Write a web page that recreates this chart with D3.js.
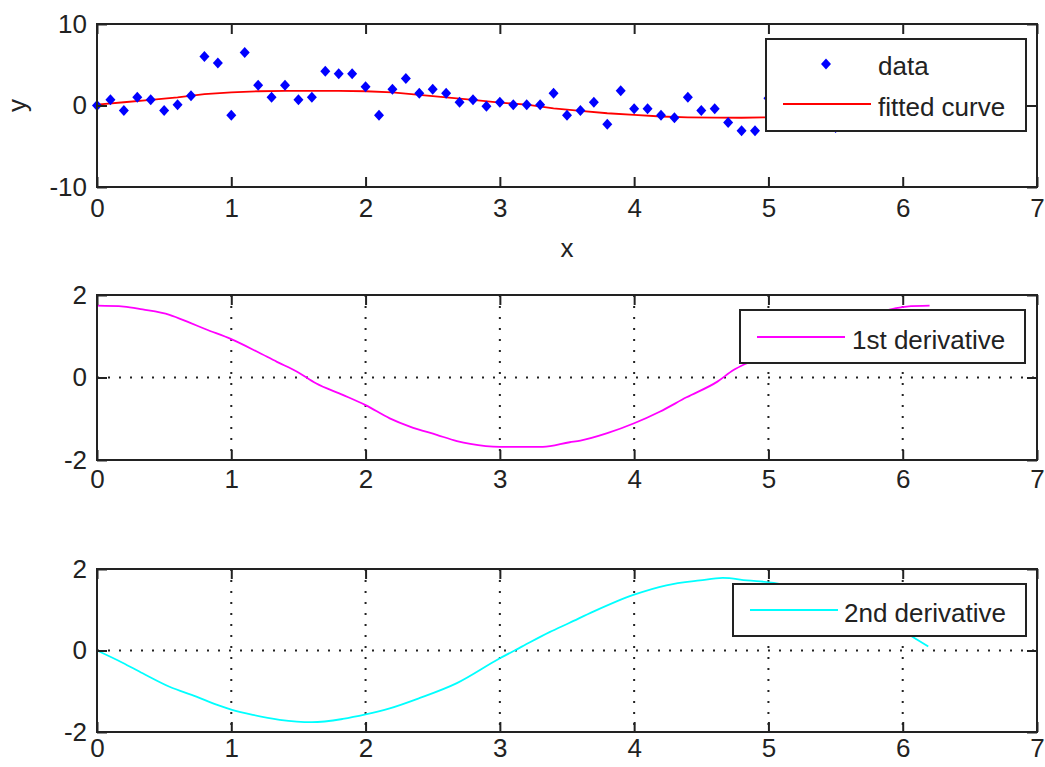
<!DOCTYPE html>
<html>
<head>
<meta charset="utf-8">
<script src="https://cdn.jsdelivr.net/npm/d3@7"></script>
<style>
  html, body { margin: 0; padding: 0; background: #fff; }
  svg { display: block; font-family: "Liberation Sans", Arial, sans-serif; }
  .tick text { font-size: 26px; fill: #222; }
</style>
</head>
<body>
<svg id="chart" width="1045" height="767"></svg>
<script>
// ---------- data ----------
const dataX = d3.range(63).map(i => +(i * 0.1).toFixed(1));
const dataY = [0.0, 0.7, -0.6, 1.0, 0.7, -0.6, 0.1, 1.2, 6.0, 5.2,
               -1.2, 6.5, 2.5, 1.0, 2.5, 0.7, 1.0, 4.2, 3.9, 3.9,
               2.3, -1.2, 2.0, 3.3, 1.5, 2.0, 1.5, 0.4, 0.7, -0.1,
               0.4, 0.1, 0.1, 0.1, 1.5, -1.2, -0.6, 0.4, -2.3, 1.8,
               -0.4, -0.4, -1.2, -1.5, 1.0, -0.6, -0.4, -2.1, -3.1, -3.1,
               0.9, -1.0, -2.0, 0.5, -1.5, -2.7, -1.3, -0.2, -2.0, -0.8,
               0.3, -1.5, -0.5];

const fitX = [0, 0.2, 0.4, 0.6, 0.8, 1.0, 1.2, 1.4, 1.6, 1.8, 2.0, 2.2, 2.4, 2.6, 2.8, 3.0,
              3.2, 3.4, 3.6, 3.8, 4.0, 4.2, 4.4, 4.6, 4.8, 5.0, 5.2, 5.4, 5.6, 5.8, 6.0, 6.2];
const fitY = [0.1, 0.4, 0.7, 1.0, 1.4, 1.6, 1.75, 1.8, 1.8, 1.8, 1.75, 1.6, 1.3, 1.0, 0.7, 0.35,
              0.1, -0.35, -0.65, -0.95, -1.15, -1.35, -1.45, -1.5, -1.5, -1.45, -1.35, -1.15, -0.9, -0.6, -0.35, -0.1];

const d1X = [0, 0.2, 0.34, 0.54, 0.69, 0.81, 1.0, 1.19, 1.34, 1.49, 1.63, 1.83, 2.0, 2.18, 2.33,
             2.53, 2.68, 2.78, 3.0, 3.32, 3.52, 3.6, 3.8, 4.0, 4.19, 4.39, 4.62, 4.74, 4.86,
             5.0, 5.2, 5.4, 5.6, 5.8, 5.95, 6.03, 6.2];
const d1Y = [1.74, 1.72, 1.65, 1.52, 1.33, 1.17, 0.93, 0.63, 0.38, 0.14, -0.14, -0.42, -0.67, -0.99, -1.19,
             -1.39, -1.54, -1.61, -1.68, -1.68, -1.57, -1.53, -1.35, -1.11, -0.83, -0.48, -0.1, 0.18, 0.38,
             0.6, 0.9, 1.15, 1.35, 1.55, 1.68, 1.72, 1.74];

const d2X = [0, 0.19, 0.34, 0.54, 0.74, 0.89, 1.0, 1.16, 1.36, 1.6, 1.83, 2.0, 2.18, 2.4, 2.68,
             3.0, 3.15, 3.37, 3.52, 3.7, 4.0, 4.24, 4.49, 4.66, 4.84, 5.04, 5.3, 5.6, 5.9, 6.09, 6.19];
const d2Y = [0, -0.3, -0.56, -0.89, -1.13, -1.33, -1.45, -1.58, -1.7, -1.76, -1.68, -1.57, -1.42, -1.17, -0.8,
             -0.19, 0.07, 0.45, 0.68, 0.96, 1.37, 1.6, 1.72, 1.78, 1.72, 1.66, 1.45, 1.15, 0.7, 0.3, 0.1];

const xTicks = [0, 1, 2, 3, 4, 5, 6, 7];
const yTicksTop = [-10, 0, 10];
const yTicksDeriv = [-2, 0, 2];

// ---------- layout ----------
const svg = d3.select("#chart");
const left = 97, right = 1037;
const panels = [
  { top: 24, bottom: 187, domain: [-10, 10], yTicks: yTicksTop, grid: false, pad: 12 },
  { top: 295, bottom: 460, domain: [-2, 2], yTicks: yTicksDeriv, grid: true, pad: 10 },
  { top: 569, bottom: 732, domain: [-2, 2], yTicks: yTicksDeriv, grid: true, pad: 7 }
];
const x = d3.scaleLinear().domain([0, 7]).range([left, right]);
const fmt = d => String(d);

function drawFrame(p) {
  const y = d3.scaleLinear().domain(p.domain).range([p.bottom, p.top]);
  p.y = y;
  const g = svg.append("g");
  if (p.grid) {
    g.append("g").selectAll("line").data(xTicks.slice(1, -1)).join("line")
      .attr("x1", d => x(d)).attr("x2", d => x(d))
      .attr("y1", p.top).attr("y2", p.bottom)
      .attr("stroke", "#222").attr("stroke-width", 2)
      .attr("stroke-dasharray", "2,9");
    g.append("g").selectAll("line").data(p.yTicks.slice(1, -1)).join("line")
      .attr("x1", left).attr("x2", right)
      .attr("y1", d => y(d)).attr("y2", d => y(d))
      .attr("stroke", "#222").attr("stroke-width", 2)
      .attr("stroke-dasharray", "2,9");
  }
  p.g = g;
  return y;
}

function drawAxes(p) {
  const y = p.y;
  const g = svg.append("g");
  const ax = g.append("g").attr("transform", `translate(0,${p.bottom})`)
    .call(d3.axisBottom(x).tickValues(xTicks).tickSize(-10).tickPadding(p.pad).tickFormat(fmt));
  const ay = g.append("g").attr("transform", `translate(${left},0)`)
    .call(d3.axisLeft(y).tickValues(p.yTicks).tickSize(-10).tickPadding(10).tickFormat(fmt));
  const at = g.append("g").attr("transform", `translate(0,${p.top})`)
    .call(d3.axisTop(x).tickValues(xTicks).tickSize(-10).tickFormat(""));
  const ar = g.append("g").attr("transform", `translate(${right},0)`)
    .call(d3.axisRight(y).tickValues(p.yTicks).tickSize(-10).tickFormat(""));
  [ax, ay, at, ar].forEach(a => {
    a.select(".domain").remove();
    a.selectAll(".tick line").attr("stroke", "#222").attr("stroke-width", 2);
    a.selectAll(".tick text").attr("font-family", "Liberation Sans, Arial, sans-serif").attr("fill", "#222");
  });
  g.append("rect").attr("x", left).attr("y", p.top)
    .attr("width", right - left).attr("height", p.bottom - p.top)
    .attr("fill", "none").attr("stroke", "#222").attr("stroke-width", 2);
}

function legendBox(x0, y0, x1, y1) {
  svg.append("rect").attr("x", x0).attr("y", y0).attr("width", x1 - x0).attr("height", y1 - y0)
    .attr("fill", "#fff").attr("stroke", "#222").attr("stroke-width", 2);
}
function legendText(tx, ty, str) {
  svg.append("text").attr("x", tx).attr("y", ty).attr("font-size", 26).attr("fill", "#222").text(str);
}

const diamond = "M0,-5.5L5,0L0,5.5L-5,0Z";

// ---------- panel 1 ----------
const p1 = panels[0];
drawFrame(p1);
p1.g.append("path")
  .datum(fitX.map((v, i) => [v, fitY[i]]))
  .attr("d", d3.line().x(d => x(d[0])).y(d => p1.y(d[1])))
  .attr("fill", "none").attr("stroke", "#ff0000").attr("stroke-width", 1.8);
p1.g.append("g").selectAll("path").data(dataX.map((v, i) => [v, dataY[i]])).join("path")
  .attr("transform", d => `translate(${x(d[0])},${p1.y(d[1])})`)
  .attr("d", diamond).attr("fill", "#0000ff");
drawAxes(p1);
legendBox(766, 39, 1026, 131);
svg.append("path").attr("transform", "translate(826,64)").attr("d", diamond).attr("fill", "#0000ff");
legendText(878, 75, "data");
svg.append("line").attr("x1", 783).attr("x2", 871).attr("y1", 104).attr("y2", 104)
  .attr("stroke", "#ff0000").attr("stroke-width", 1.8);
legendText(878, 116, "fitted curve");
svg.append("text").attr("x", x(3.5)).attr("y", 257).attr("text-anchor", "middle")
  .attr("font-size", 26).attr("fill", "#222").text("x");
svg.append("text").attr("transform", `translate(26,${(p1.top + p1.bottom) / 2}) rotate(-90)`)
  .attr("text-anchor", "middle").attr("font-size", 26).attr("fill", "#222").text("y");

// ---------- panel 2 ----------
const p2 = panels[1];
drawFrame(p2);
p2.g.append("path")
  .datum(d1X.map((v, i) => [v, d1Y[i]]))
  .attr("d", d3.line().curve(d3.curveMonotoneX).x(d => x(d[0])).y(d => p2.y(d[1])))
  .attr("fill", "none").attr("stroke", "#ff00ff").attr("stroke-width", 1.8);
drawAxes(p2);
legendBox(740, 310, 1025, 363);
svg.append("line").attr("x1", 757).attr("x2", 845).attr("y1", 337).attr("y2", 337)
  .attr("stroke", "#ff00ff").attr("stroke-width", 1.8);
legendText(852, 349, "1st derivative");

// ---------- panel 3 ----------
const p3 = panels[2];
drawFrame(p3);
p3.g.append("path")
  .datum(d2X.map((v, i) => [v, d2Y[i]]))
  .attr("d", d3.line().curve(d3.curveMonotoneX).x(d => x(d[0])).y(d => p3.y(d[1])))
  .attr("fill", "none").attr("stroke", "#00ffff").attr("stroke-width", 1.8);
drawAxes(p3);
legendBox(733, 584, 1026, 636);
svg.append("line").attr("x1", 750).attr("x2", 838).attr("y1", 610).attr("y2", 610)
  .attr("stroke", "#00ffff").attr("stroke-width", 1.8);
legendText(844, 622, "2nd derivative");
</script>
</body>
</html>
